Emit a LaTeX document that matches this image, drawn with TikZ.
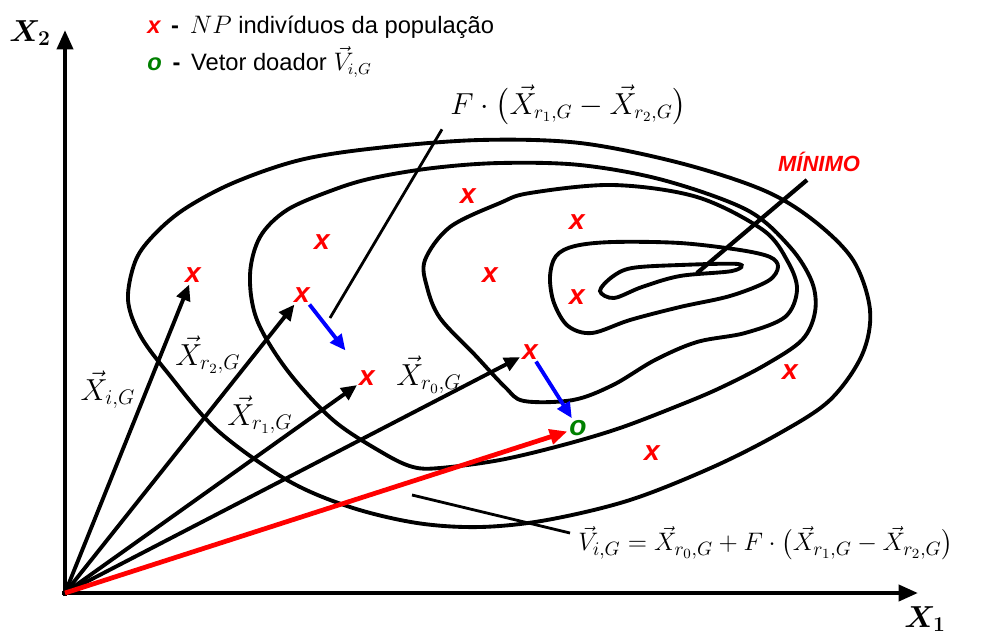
\documentclass[tikz,border=0pt]{standalone}
\usepackage{amsmath}
\usepackage{bm}
\usepackage{fontspec}
\setmainfont{Liberation Sans}
\usepackage{tikz}
\usetikzlibrary{arrows.meta, positioning, calc}
\definecolor{myred}{RGB}{255,0,0}
\definecolor{myblue}{RGB}{0,0,255}
\definecolor{mygreen}{RGB}{0,128,0}
\definecolor{mydark}{RGB}{0,0,0}
\tikzset{
  contour/.style={line width=2.2pt, color=mydark, smooth cycle, tension=0.55},
  axis/.style={-{Triangle[length=11pt, width=9pt]}, line width=2.4pt, color=mydark},
  vec/.style={-{Triangle[length=9pt, width=8pt]}, line width=2.2pt, color=mydark},
  diffarrow/.style={-{Triangle[length=9pt, width=8pt]}, line width=2.2pt, color=myblue},
  redarrow/.style={-{Triangle[length=10pt, width=8.5pt]}, line width=2.7pt, color=myred},
  leader/.style={line width=1.6pt, color=mydark},
  pop/.style={text=myred, font=\fontsize{16}{16}\selectfont\bfseries\itshape, inner sep=1pt},
  donor/.style={text=mygreen, font=\fontsize{16}{16}\selectfont\bfseries\itshape, inner sep=1pt},
  vlabel/.style={font=\fontsize{17}{19}\selectfont, inner sep=0pt},
  eqlabel/.style={anchor=west, font=\fontsize{16}{18}\selectfont, inner sep=0pt},
  legend/.style={anchor=west, font=\fontsize{13.5}{15}\selectfont, inner sep=0pt}
}

\begin{document}
\begin{tikzpicture}[x=0.02cm, y=-0.02cm]
  \useasboundingbox (0,0) rectangle (987,636);

  % Contour lines
  \draw[contour] plot coordinates {(128,300) (135,262) (152,237) (183,210) (233,183)
    (300,160) (377,148) (480,140) (580,143) (680,163) (763,190) (813,220) (853,260)
    (870,310) (862,355) (830,400) (780,433) (713,467) (630,500) (547,520) (480,527)
    (417,523) (350,507) (287,480) (217,430) (167,372) (140,335)};
  \draw[contour] plot coordinates {(257,320) (250,275) (260,237) (287,210) (333,190)
    (373,178) (433,168) (500,163) (580,165) (663,180) (747,210) (790,247) (812,282)
    (815,312) (802,340) (765,365) (720,388) (680,405) (620,428) (563,445) (500,460)
    (440,468) (413,467) (383,453) (333,420) (287,370)};
  \draw[contour] plot coordinates {(425,260) (450,227) (500,203) (530,193) (613,185)
    (697,197) (763,230) (788,262) (797,290) (785,317) (745,333) (697,342) (655,360)
    (613,385) (573,400) (524,401) (505,387) (475,355) (440,318) (427,287)};
  \draw[contour] plot coordinates {(550,277) (556,256) (575,246) (613,242) (680,243)
    (740,250) (770,257) (778,267) (768,281) (730,296) (680,307) (630,320) (592,333)
    (568,326) (554,303)};
  \draw[contour] plot coordinates {(600,291) (612,277) (632,268) (680,265) (738,264)
    (732,271) (680,276) (642,287) (614,298)};

  % Axes
  \coordinate (O) at (65,593);
  \coordinate (x2end) at (65,30);
  \coordinate (x1end) at (918,593);
  \draw[axis] ($(O)+(0,3)$) -- (x2end);
  \draw[axis] ($(O)+(-3,0)$) -- (x1end);
  \node[font=\fontsize{17}{17}\selectfont] (x2lbl) at (30,33) {$\bm{X_2}$};
  \node[font=\fontsize{17}{17}\selectfont] (x1lbl) at (925,619) {$\bm{X_1}$};

  % Legend
  \node[legend] (leg1) at (147,27) {{\color{myred}\bfseries\itshape x}\hspace{0.45em}\textbf{-}\hspace{0.45em}$NP$ indivíduos da população};
  \node[legend] (leg2) at (147,62) {{\color{mygreen}\bfseries\itshape o}\hspace{0.45em}\textbf{-}\hspace{0.45em}Vetor doador $\vec{V}_{i,G}$};

  % Population
  \node[pop] (xi) at (193,275) {x};
  \node[pop] (xr2) at (302,295) {x};
  \node[pop] (xr1) at (367,378) {x};
  \node[pop] (xr0) at (530,352) {x};
  \node[pop] (p1) at (322,242) {x};
  \node[pop] (p2) at (468,196) {x};
  \node[pop] (p3) at (490,275) {x};
  \node[pop] (p4) at (577,222) {x};
  \node[pop] (p5) at (577,297) {x};
  \node[pop] (p6) at (790,372) {x};
  \node[pop] (p7) at (652,453) {x};
  \node[donor] (v) at (578,428) {o};

  % Vectors
  \draw[vec] (O) -- (xi);
  \draw[vec] (O) -- (xr2);
  \draw[vec] (O) -- (xr1);
  \draw[vec] (O) -- (xr0);
  \draw[redarrow] (O) -- (v);
  \draw[diffarrow, shorten >=13pt] (xr2) -- (xr1);
  \draw[diffarrow] (xr0) -- (v);

  \node[vlabel] (lxi) at (108,390) {$\vec{X}_{i,G}$};
  \node[vlabel] (lxr2) at (208,355) {$\vec{X}_{r_2,G}$};
  \node[vlabel] (lxr1) at (260,415) {$\vec{X}_{r_1,G}$};
  \node[vlabel] (lxr0) at (429,375) {$\vec{X}_{r_0,G}$};

  % Annotations
  \node[eqlabel] (fdiff) at (450,105) {$F\cdot\bigl(\vec{X}_{r_1,G}-\vec{X}_{r_2,G}\bigr)$};
  \coordinate (fpt) at (330,318);
  \draw[leader] ($(fdiff.south west)+(-8,4)$) -- (fpt);

  \node[text=myred, font=\fontsize{12.5}{14}\selectfont\bfseries\itshape] (minlbl) at (819,162) {MÍNIMO};
  \coordinate (minpt) at (697,273);
  \draw[leader, line width=2.4pt] ($(minlbl.south)+(-12,2)$) -- (minpt);

  \node[eqlabel, font=\fontsize{15.6}{18}\selectfont] (vform) at (578,543) {$\vec{V}_{i,G}=\vec{X}_{r_0,G}+F\cdot\bigl(\vec{X}_{r_1,G}-\vec{X}_{r_2,G}\bigr)$};
  \coordinate (vpt) at (412,495);
  \draw[leader] ($(vform.west)+(-8,-10)$) -- (vpt);
\end{tikzpicture}
\end{document}
